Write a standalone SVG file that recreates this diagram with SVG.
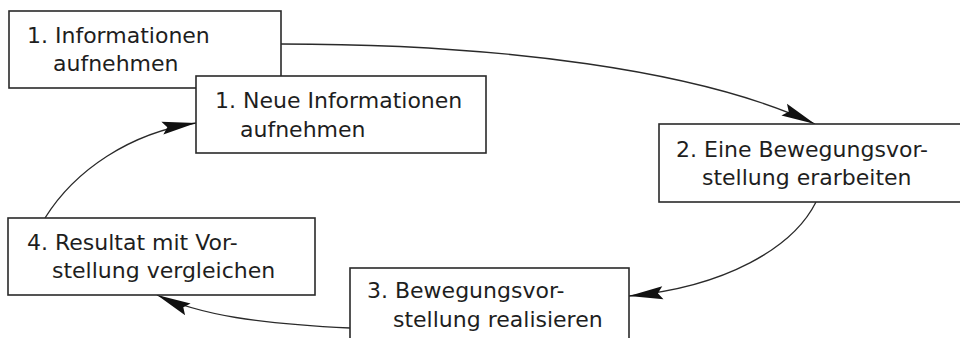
<svg xmlns="http://www.w3.org/2000/svg" width="960" height="338" viewBox="0 0 960 338">
<style>
.box{fill:#fff;stroke:#2a2a2a;stroke-width:1.6}
.t{font-family:"DejaVu Sans",sans-serif;font-size:22px;fill:#1e1e1e}
.c{fill:none;stroke:#2a2a2a;stroke-width:1.3}
</style>
<defs>
<marker id="ah" markerUnits="userSpaceOnUse" viewBox="-36 -8 38 16" refX="0" refY="0" markerWidth="38" markerHeight="16" orient="auto">
<path d="M0,0 L-34,-6.5 L-29,0 L-34,6.5 Z" fill="#111"/>
</marker>
</defs>
<rect width="960" height="338" fill="#fff"/>
<g id="connectors">
<path class="c" d="M281,44 C500,44 700,70 815,124" marker-end="url(#ah)"/>
<path class="c" d="M816,202 C793,248 725,287 629,296" marker-end="url(#ah)"/>
<path class="c" d="M350,328 C260,324 200,315 157,295" marker-end="url(#ah)"/>
<path class="c" d="M45,218 C75,170 130,133 196,123" marker-end="url(#ah)"/>
</g>
<g id="node1">
<rect class="box" x="9" y="11" width="272" height="77"/>
<text class="t" x="27" y="43">1. Informationen</text>
<text class="t" x="53" y="71">aufnehmen</text>
</g>
<g id="node1b">
<rect class="box" x="196" y="76" width="290" height="77"/>
<text class="t" x="215" y="108">1. Neue Informationen</text>
<text class="t" x="240" y="137">aufnehmen</text>
</g>
<g id="node2">
<rect class="box" x="659" y="124" width="310" height="78"/>
<text class="t" x="676" y="157">2. Eine Bewegungsvor-</text>
<text class="t" x="702" y="185">stellung erarbeiten</text>
</g>
<g id="node3">
<rect class="box" x="350" y="268" width="279" height="80"/>
<text class="t" x="367" y="298">3. Bewegungsvor-</text>
<text class="t" x="393" y="327">stellung realisieren</text>
</g>
<g id="node4">
<rect class="box" x="8" y="218" width="307" height="77"/>
<text class="t" x="27" y="250">4. Resultat mit Vor-</text>
<text class="t" x="52" y="278">stellung vergleichen</text>
</g>
</svg>
